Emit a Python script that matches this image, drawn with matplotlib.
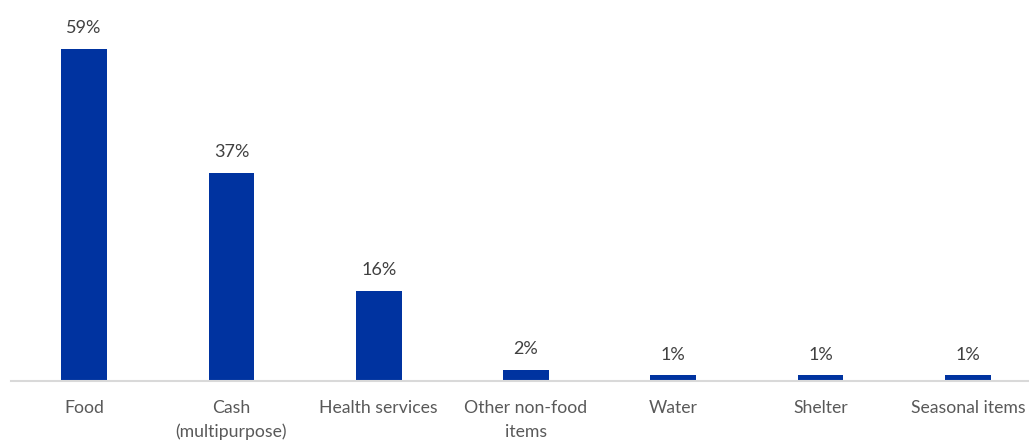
import numpy as np
import matplotlib.pyplot as plt

categories = ["Food", "Cash\n(multipurpose)", "Health services", "Other non-food\nitems",
              "Water", "Shelter", "Seasonal items"]
values = [59, 37, 16, 2, 1, 1, 1]

plt.rcParams['font.family'] = ['Lato', 'DejaVu Sans']

fig = plt.figure(figsize=(10.29, 4.41), dpi=100)
ax = fig.add_axes([10.5 / 1029, 60 / 441, 1 - 10.5 / 1029, (426 - 60) / 441])

x = np.arange(len(categories))
bars = ax.bar(x, values, width=0.31, color='#0033A0')

for xi, v in zip(x, values):
    ax.annotate(f"{v}%", (xi, v), xytext=(0, 9), textcoords='offset points',
                ha='center', va='bottom', fontsize=13, color='#404040')

ax.set_xlim(-0.5, 6.5 - 12.5 / 147)
ax.set_ylim(0, 65)
ax.set_xticks(x)
ax.set_xticklabels(categories, fontsize=12.7, color='#595959', linespacing=1.55)
ax.tick_params(axis='x', length=0, pad=14)
ax.set_yticks([])
for s in ['top', 'right', 'left']:
    ax.spines[s].set_visible(False)
ax.spines['bottom'].set_color('#d9d9d9')
ax.spines['bottom'].set_linewidth(1.5)

fig.savefig('out.png', dpi=100)
